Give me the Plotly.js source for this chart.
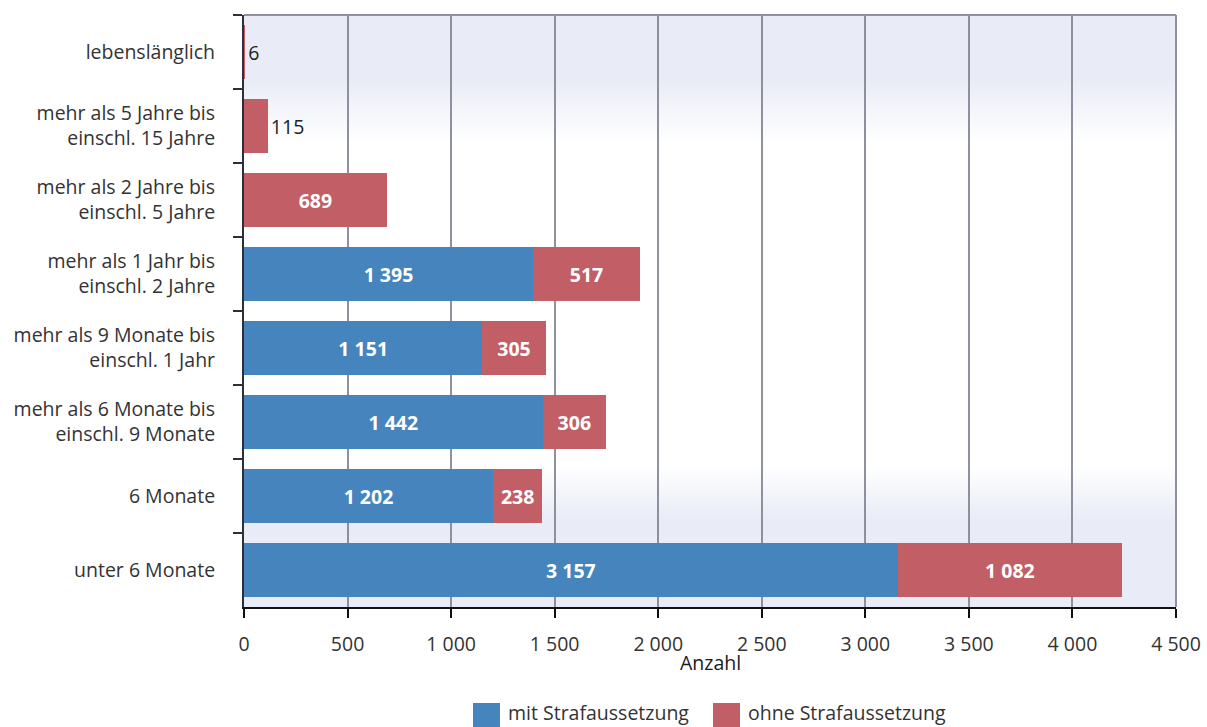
<!DOCTYPE html>
<html>
<head>
<meta charset="utf-8">
<script src="https://cdn.plot.ly/plotly-3.0.1.min.js"></script>
<style>html,body{margin:0;padding:0;background:#fff;}</style>
</head>
<body>
<div id="chart" style="width:1207px;height:727px;"></div>
<script>
// ---- data ----
const categories = [
  "lebenslänglich",
  "mehr als 5 Jahre bis<br>einschl. 15 Jahre",
  "mehr als 2 Jahre bis<br>einschl. 5 Jahre",
  "mehr als 1 Jahr bis<br>einschl. 2 Jahre",
  "mehr als 9 Monate bis<br>einschl. 1 Jahr",
  "mehr als 6 Monate bis<br>einschl. 9 Monate",
  "6 Monate",
  "unter 6 Monate"
];
const mitStrafaussetzung = [null, null, null, 1395, 1151, 1442, 1202, 3157];
const ohneStrafaussetzung = [6, 115, 689, 517, 305, 306, 238, 1082];
const seriesNames = ["mit Strafaussetzung", "ohne Strafaussetzung"];
const xTickValues = [0, 500, 1000, 1500, 2000, 2500, 3000, 3500, 4000, 4500];
const xAxisTitle = "Anzahl";

// ---- styles ----
const BLUE = "#4584bc";
const RED = "#c25e65";
const FONT = "Open Sans, Noto Sans, sans-serif";
const FS = 19.5;
const LAV = [233, 236, 246];

function fmt(v) {
  if (v === null || v === undefined) return "";
  return String(v).replace(/\B(?=(\d{3})+(?!\d))/g, " ");
}

const traces = [
  {
    type: "bar", orientation: "h", name: seriesNames[0],
    y: categories, x: mitStrafaussetzung,
    marker: {color: BLUE},
    text: mitStrafaussetzung.map(fmt), textposition: "auto",
    insidetextanchor: "middle",
    insidetextfont: {family: FONT, size: FS, color: "#ffffff", weight: 700},
    outsidetextfont: {family: FONT, size: FS, color: "#222222"},
    hoverinfo: "x+name", showlegend: false, cliponaxis: false
  },
  {
    type: "bar", orientation: "h", name: seriesNames[1],
    y: categories, x: ohneStrafaussetzung,
    marker: {color: RED},
    text: ohneStrafaussetzung.map(fmt), textposition: "auto",
    insidetextanchor: "middle",
    insidetextfont: {family: FONT, size: FS, color: "#ffffff", weight: 700},
    outsidetextfont: {family: FONT, size: FS, color: "#222222"},
    hoverinfo: "x+name", showlegend: false, cliponaxis: false
  }
];

// background gradient bands (plot area: pixel rows 15..607)
const shapes = [];
const PTOP = 15, PBOT = 607, PH = PBOT - PTOP;
function lavWeight(py) {
  if (py < 80) return 1;
  if (py < 142) return 1 - (py - 80) / 62;
  if (py < 465) return 0;
  if (py < 520) return (py - 465) / 55;
  return 1;
}
for (let py = PTOP; py < PBOT; py += 2) {
  const w = lavWeight(py + 1);
  if (w <= 0) continue;
  const c = LAV.map(v => Math.round(255 - (255 - v) * w));
  shapes.push({
    type: "rect", xref: "x domain", yref: "y domain", layer: "below",
    x0: 0, x1: 1, y0: (PBOT - py - 2) / PH, y1: (PBOT - py) / PH,
    fillcolor: `rgb(${c[0]},${c[1]},${c[2]})`, line: {width: 0}
  });
}
// top and right border lines
shapes.push({type: "line", xref: "x domain", yref: "y domain", x0: 0, x1: 1, y0: 1, y1: 1,
  line: {color: "#8e909f", width: 2}, layer: "below"});
shapes.push({type: "line", xref: "x domain", yref: "y domain", x0: 1, x1: 1, y0: 0, y1: 1,
  line: {color: "#8e909f", width: 2}, layer: "below"});

// manual legend (larger swatches than Plotly's default)
const legendItems = [
  {name: seriesNames[0], color: BLUE, x0: 473, tx: 506},
  {name: seriesNames[1], color: RED, x0: 713, tx: 746}
];
const annotations = [];
legendItems.forEach(it => {
  shapes.push({type: "rect", xref: "paper", yref: "paper", layer: "above",
    x0: (it.x0 - 244) / 932, x1: (it.x0 + 27 - 244) / 932,
    y0: (PBOT - 703) / PH, y1: (PBOT - 727) / PH,
    fillcolor: it.color, line: {width: 0}});
  annotations.push({xref: "paper", yref: "paper", x: (it.tx - 244) / 932, y: (PBOT - 712) / PH,
    xanchor: "left", yanchor: "middle", showarrow: false, text: it.name,
    font: {family: FONT, size: FS, color: "#333333"}});
});
// x axis title
annotations.push({xref: "paper", yref: "paper", x: 0.5, y: (PBOT - 662) / PH,
  xanchor: "center", yanchor: "middle", showarrow: false, text: xAxisTitle,
  font: {family: FONT, size: FS, color: "#1a1a1a", weight: 500}});

const layout = {
  width: 1207, height: 727,
  margin: {l: 244, r: 31, t: 15, b: 120, pad: 0},
  paper_bgcolor: "#ffffff", plot_bgcolor: "#ffffff",
  barmode: "stack", bargap: 0.28,
  separators: ", ",
  showlegend: false,
  font: {family: FONT, size: FS, color: "#333333"},
  xaxis: {
    range: [0, 4500], tickvals: xTickValues, separatethousands: true,
    showgrid: true, gridcolor: "#8e909f", gridwidth: 2,
    zeroline: false, showline: true, linecolor: "#111111", linewidth: 2,
    ticks: "outside", ticklen: 9, tickwidth: 2, tickcolor: "#111111",
    tickfont: {family: FONT, size: FS, color: "#333333"},
    ticklabelstandoff: 10,
    fixedrange: true
  },
  yaxis: {
    type: "category", autorange: "reversed",
    showgrid: false, zeroline: false,
    showline: true, linecolor: "#2e2e3e", linewidth: 2,
    ticks: "outside", tickson: "boundaries", ticklen: 9, tickwidth: 2, tickcolor: "#2e2e3e",
    tickfont: {family: FONT, size: FS, color: "#333333"},
    ticklabelstandoff: 23,
    fixedrange: true
  },
  shapes: shapes,
  annotations: annotations
};

Plotly.newPlot("chart", traces, layout, {displayModeBar: false, staticPlot: true});
</script>
</body>
</html>
